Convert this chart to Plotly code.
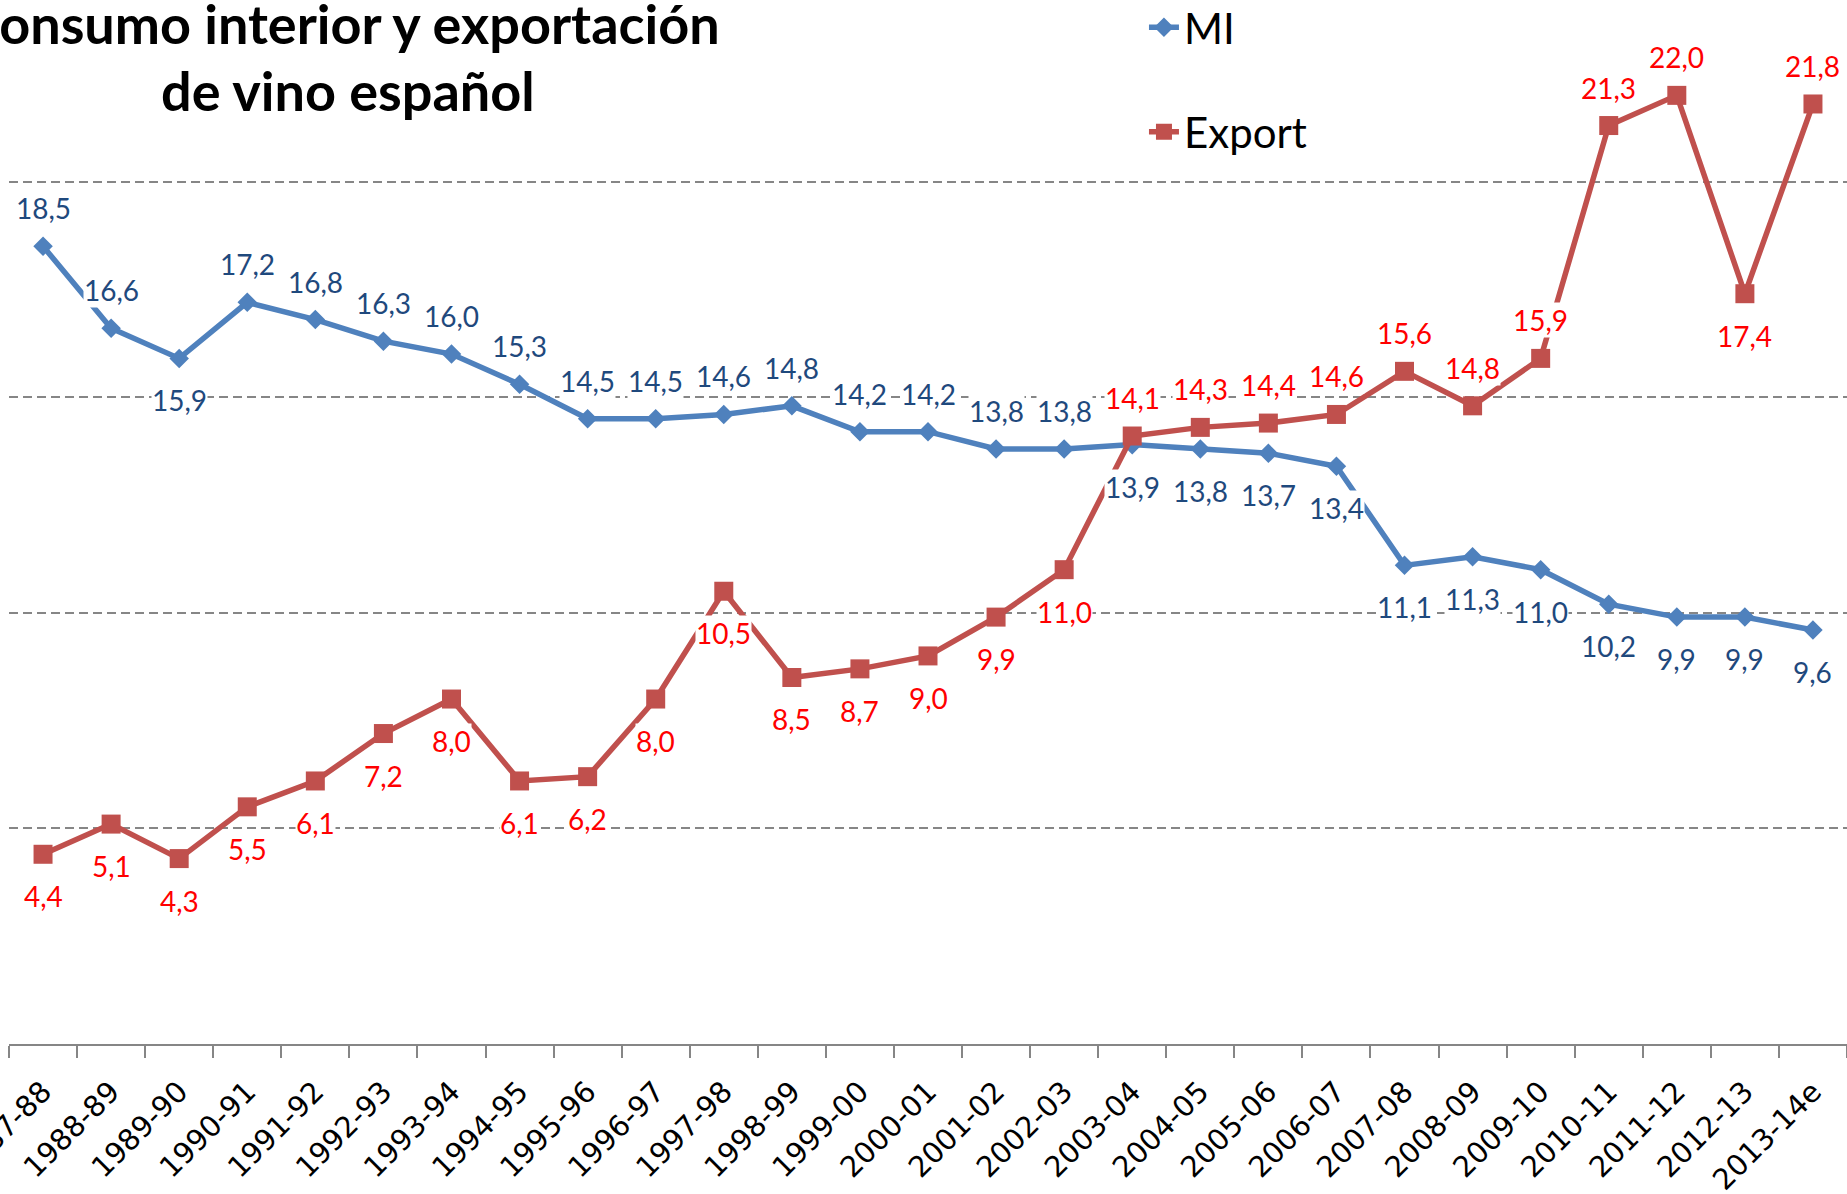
import plotly.graph_objects as go

seasons = ["1987-88", "1988-89", "1989-90", "1990-91", "1991-92", "1992-93", "1993-94",
           "1994-95", "1995-96", "1996-97", "1997-98", "1998-99", "1999-00", "2000-01",
           "2001-02", "2002-03", "2003-04", "2004-05", "2005-06", "2006-07", "2007-08",
           "2008-09", "2009-10", "2010-11", "2011-12", "2012-13", "2013-14e"]

mi = [18.5, 16.6, 15.9, 17.2, 16.8, 16.3, 16.0, 15.3, 14.5, 14.5, 14.6, 14.8, 14.2, 14.2,
      13.8, 13.8, 13.9, 13.8, 13.7, 13.4, 11.1, 11.3, 11.0, 10.2, 9.9, 9.9, 9.6]

export = [4.4, 5.1, 4.3, 5.5, 6.1, 7.2, 8.0, 6.1, 6.2, 8.0, 10.5, 8.5, 8.7, 9.0,
          9.9, 11.0, 14.1, 14.3, 14.4, 14.6, 15.6, 14.8, 15.9, 21.3, 22.0, 17.4, 21.8]

title_lines = ["Consumo interior y exportación", "de vino español"]

# label side: 1 = above the point, -1 = below
mi_label_side = [1, 1, -1] + [1] * 13 + [-1] * 11
export_label_side = [-1] * 16 + [1] * 9 + [-1, 1]

BLUE = "#4F81BD"
RED = "#C0504D"
BLUE_TXT = "#1F497D"
RED_TXT = "#FF0000"

fig = go.Figure()
fig.add_trace(go.Scatter(
    x=seasons, y=mi, name="MI", mode="lines+markers",
    line=dict(color=BLUE, width=5.5),
    marker=dict(symbol="diamond", size=15, color=BLUE),
    legendgroup="mi",
))
fig.add_trace(go.Scatter(
    x=seasons, y=export, name="Export", mode="lines+markers",
    line=dict(color=RED, width=5.5),
    marker=dict(symbol="square", size=19, color=RED),
    legendgroup="ex",
))

def fmt(v):
    return f"{v:.1f}".replace(".", ",")

annotations = []
for s, v, side in zip(seasons, mi, mi_label_side):
    annotations.append(dict(
        x=s, y=v, xref="x", yref="y", text=fmt(v), showarrow=False,
        yshift=38 if side > 0 else -42, bgcolor="white", borderpad=0,
        font=dict(family="Lato", size=28, color=BLUE_TXT)))
for s, v, side in zip(seasons, export, export_label_side):
    annotations.append(dict(
        x=s, y=v, xref="x", yref="y", text=fmt(v), showarrow=False,
        yshift=38 if side > 0 else -42, bgcolor="white", borderpad=0,
        font=dict(family="Lato", size=28, color=RED_TXT)))

for line, cx, shift in zip(title_lines, [342, 348], [11, -56]):
    annotations.append(dict(
        x=(cx - 9) / 1838, y=1, xref="paper", yref="paper", xanchor="center", yanchor="top",
        yshift=shift, text=line, showarrow=False, align="center",
        font=dict(family="Lato", size=54, color="black", weight="bold")))

fig.update_layout(
    width=1847, height=1194,
    margin=dict(l=9, r=0, t=0, b=150, autoexpand=False),
    paper_bgcolor="white", plot_bgcolor="white",
    showlegend=True,
    legend=dict(x=0.6175, y=1.0063, xanchor="left", yanchor="top",
                font=dict(family="Lato", size=42, color="black"),
                tracegroupgap=47, bgcolor="rgba(0,0,0,0)"),
    annotations=annotations,
    xaxis=dict(type="category", range=[-0.5, 26.5], tickson="boundaries", automargin=False,
               ticks="outside", ticklen=12, tickcolor="#868686", tickwidth=2,
               showline=True, linecolor="#868686", linewidth=2,
               showgrid=False, tickangle=-45, ticklabelstandoff=17,
               tickfont=dict(family="DejaVu Sans", size=29, color="black")),
    yaxis=dict(range=[0, 1044 / 43.12], dtick=5, tick0=0, showticklabels=False,
               automargin=False,
               showgrid=True, gridcolor="#868686", gridwidth=1.5, griddash="9px,5px",
               zeroline=False, showline=False, ticks=""),
)

fig.write_html("out.html", config={"displayModeBar": False},
               post_script="document.body.style.margin='0px';")
